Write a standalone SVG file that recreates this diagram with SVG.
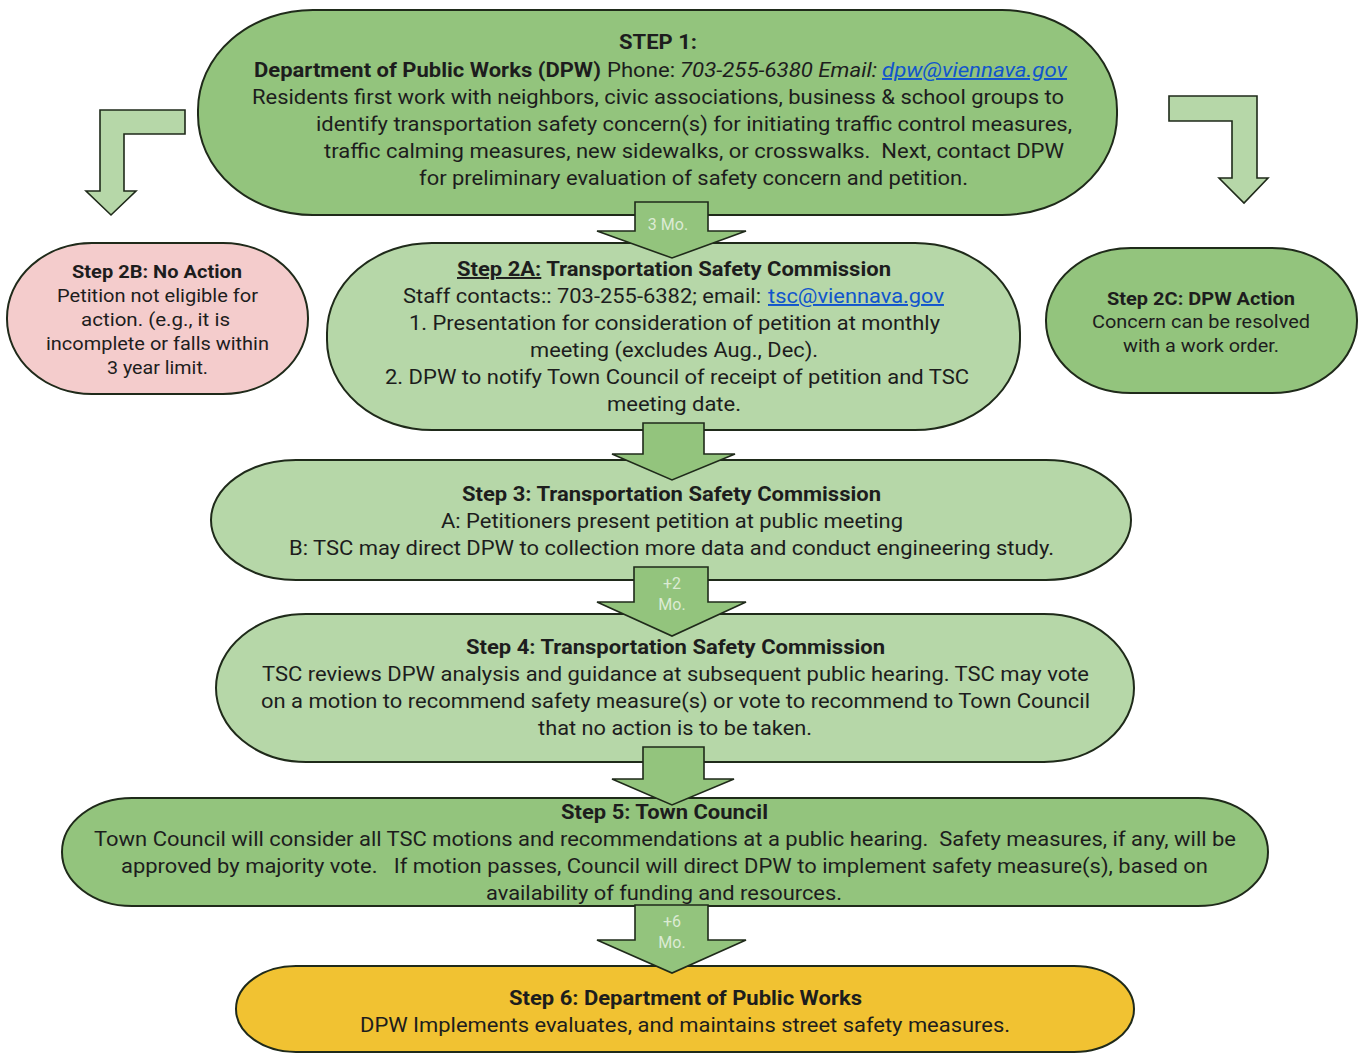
<svg xmlns="http://www.w3.org/2000/svg" width="1366" height="1053" viewBox="0 0 1366 1053">
<style>
text{font-family:Roboto,"Liberation Sans",sans-serif;fill:#1d1d1d;white-space:pre}
.t{font-size:19.5px}
.s{font-size:18px}
.b{font-weight:bold}
.i{font-style:italic}
.lnk{fill:#1155cc;text-decoration:underline}
.lab{font-size:16px;fill:#dcebd4;text-anchor:middle}
.n{stroke:#1f2a1a;stroke-width:2}
.g1{fill:#93c47d}
.g2{fill:#b6d7a8}
.pk{fill:#f4cccc}
.yl{fill:#f1c232}
.ar{fill:#93c47d;stroke:#1f2a1a;stroke-width:1.6;stroke-linejoin:miter}
.ar2{fill:#b6d7a8;stroke:#1f2a1a;stroke-width:1.6}
</style>
<rect width="1366" height="1053" fill="#ffffff"/>

<g id="step1">
<rect class="n g1" x="198" y="10" width="919" height="205" rx="115" ry="100"/>
<text class="t b" x="619" y="49" textLength="78" lengthAdjust="spacingAndGlyphs">STEP 1:</text>
<text class="t b" x="254" y="77" textLength="347" lengthAdjust="spacingAndGlyphs">Department of Public Works (DPW)</text>
<text class="t" x="607" y="77" textLength="68" lengthAdjust="spacingAndGlyphs">Phone:</text>
<text class="t i" x="680" y="77" textLength="197" lengthAdjust="spacingAndGlyphs">703-255-6380 Email:</text>
<text class="t i lnk" x="882" y="77" textLength="185" lengthAdjust="spacingAndGlyphs">dpw@viennava.gov</text>
<text class="t" x="252" y="104" textLength="812" lengthAdjust="spacingAndGlyphs">Residents first work with neighbors, civic associations, business &amp; school groups to</text>
<text class="t" x="316" y="131" textLength="756" lengthAdjust="spacingAndGlyphs">identify transportation safety concern(s) for initiating traffic control measures,</text>
<text class="t" x="324" y="158" textLength="740" lengthAdjust="spacingAndGlyphs">traffic calming measures, new sidewalks, or crosswalks.  Next, contact DPW</text>
<text class="t" x="419" y="185" textLength="549" lengthAdjust="spacingAndGlyphs">for preliminary evaluation of safety concern and petition.</text>
</g>

<g id="step2a">
<rect class="n g2" x="327" y="243" width="693" height="187" rx="105" ry="90"/>
<text class="t b" x="457" y="276" textLength="434" lengthAdjust="spacingAndGlyphs"><tspan text-decoration="underline">Step 2A:</tspan> Transportation Safety Commission</text>
<text class="t" x="403" y="303" textLength="358" lengthAdjust="spacingAndGlyphs">Staff contacts:: 703-255-6382; email:</text>
<text class="t lnk" x="768" y="303" textLength="176" lengthAdjust="spacingAndGlyphs">tsc@viennava.gov</text>
<text class="t" x="409" y="330" textLength="531" lengthAdjust="spacingAndGlyphs">1. Presentation for consideration of petition at monthly</text>
<text class="t" x="530" y="357" textLength="288" lengthAdjust="spacingAndGlyphs">meeting (excludes Aug., Dec).</text>
<text class="t" x="385" y="384" textLength="584" lengthAdjust="spacingAndGlyphs">2. DPW to notify Town Council of receipt of petition and TSC</text>
<text class="t" x="607" y="411" textLength="134" lengthAdjust="spacingAndGlyphs">meeting date.</text>
</g>

<g id="step2b">
<rect class="n pk" x="7" y="243" width="301" height="151" rx="85" ry="75"/>
<text class="s b" x="72" y="278" textLength="170" lengthAdjust="spacingAndGlyphs">Step 2B: No Action</text>
<text class="s" x="57" y="302" textLength="201" lengthAdjust="spacingAndGlyphs">Petition not eligible for</text>
<text class="s" x="81" y="326" textLength="149" lengthAdjust="spacingAndGlyphs">action. (e.g., it is</text>
<text class="s" x="46" y="350" textLength="223" lengthAdjust="spacingAndGlyphs">incomplete or falls within</text>
<text class="s" x="107" y="374" textLength="101" lengthAdjust="spacingAndGlyphs">3 year limit.</text>
</g>

<g id="step2c">
<rect class="n g1" x="1046" y="248" width="311" height="145" rx="85" ry="72"/>
<text class="s b" x="1107" y="305" textLength="188" lengthAdjust="spacingAndGlyphs">Step 2C: DPW Action</text>
<text class="s" x="1092" y="328" textLength="218" lengthAdjust="spacingAndGlyphs">Concern can be resolved</text>
<text class="s" x="1123" y="352" textLength="156" lengthAdjust="spacingAndGlyphs">with a work order.</text>
</g>

<g id="step3">
<rect class="n g2" x="211" y="460" width="920" height="120" rx="85" ry="60"/>
<text class="t b" x="462" y="501" textLength="419" lengthAdjust="spacingAndGlyphs">Step 3: Transportation Safety Commission</text>
<text class="t" x="441" y="528" textLength="462" lengthAdjust="spacingAndGlyphs">A: Petitioners present petition at public meeting</text>
<text class="t" x="289" y="555" textLength="765" lengthAdjust="spacingAndGlyphs">B: TSC may direct DPW to collection more data and conduct engineering study.</text>
</g>

<g id="step4">
<rect class="n g2" x="216" y="614" width="918" height="148" rx="90" ry="74"/>
<text class="t b" x="466" y="654" textLength="419" lengthAdjust="spacingAndGlyphs">Step 4: Transportation Safety Commission</text>
<text class="t" x="262" y="681" textLength="827" lengthAdjust="spacingAndGlyphs">TSC reviews DPW analysis and guidance at subsequent public hearing. TSC may vote</text>
<text class="t" x="261" y="708" textLength="829" lengthAdjust="spacingAndGlyphs">on a motion to recommend safety measure(s) or vote to recommend to Town Council</text>
<text class="t" x="538" y="735" textLength="274" lengthAdjust="spacingAndGlyphs">that no action is to be taken.</text>
</g>

<g id="step5">
<rect class="n g1" x="62" y="798" width="1206" height="108" rx="70" ry="54"/>
<text class="t b" x="561" y="819" textLength="207" lengthAdjust="spacingAndGlyphs">Step 5: Town Council</text>
<text class="t" x="94" y="846" textLength="1142" lengthAdjust="spacingAndGlyphs">Town Council will consider all TSC motions and recommendations at a public hearing.  Safety measures, if any, will be</text>
<text class="t" x="121" y="873" textLength="1087" lengthAdjust="spacingAndGlyphs">approved by majority vote.   If motion passes, Council will direct DPW to implement safety measure(s), based on</text>
<text class="t" x="486" y="900" textLength="356" lengthAdjust="spacingAndGlyphs">availability of funding and resources.</text>
</g>

<g id="step6">
<rect class="n yl" x="236" y="966" width="898" height="86" rx="60" ry="45"/>
<text class="t b" x="509" y="1005" textLength="353" lengthAdjust="spacingAndGlyphs">Step 6: Department of Public Works</text>
<text class="t" x="360" y="1032" textLength="650" lengthAdjust="spacingAndGlyphs">DPW Implements evaluates, and maintains street safety measures.</text>
</g>

<g id="connectors">
<path class="ar2" d="M100,110 H185 V134 H124 V191 H136 L111,215 L86,191 H100 Z"/>
<path class="ar2" d="M1169,96 H1257 V178 H1268 L1244,203 L1219,178 H1232 V121 H1169 Z"/>
<path class="ar" d="M635,202 H708 V231 H746 L672,258 L597,231 H635 Z"/>
<path class="ar" d="M643,423 H704 V454 H735 L672,480 L612,454 H643 Z"/>
<path class="ar" d="M634,567 H708 V602 H746 L672,636 L597,602 H634 Z"/>
<path class="ar" d="M643,747 H704 V779 H734 L672,805 L612,779 H643 Z"/>
<path class="ar" d="M635,905 H708 V940 H746 L672,973 L597,940 H635 Z"/>
<text class="lab" x="668" y="230">3 Mo.</text>
<text class="lab" x="672" y="589">+2</text>
<text class="lab" x="672" y="610">Mo.</text>
<text class="lab" x="672" y="927">+6</text>
<text class="lab" x="672" y="948">Mo.</text>
</g>
</svg>
